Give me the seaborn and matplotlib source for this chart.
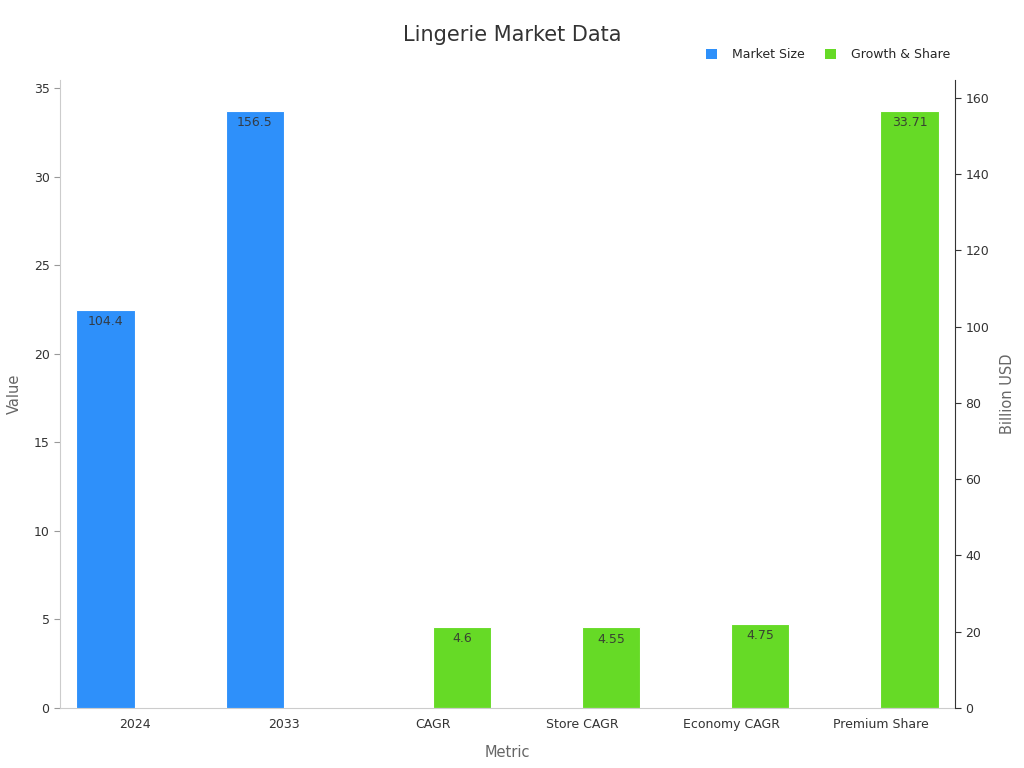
import pandas as pd
import matplotlib
matplotlib.use("Agg")
import matplotlib.pyplot as plt
from matplotlib.patches import Patch
import seaborn as sns

# data
metrics = ["2024", "2033", "CAGR", "Store CAGR", "Economy CAGR", "Premium Share"]
series_names = ["Market Size", "Growth & Share"]
market_size = [104.4, 156.5, None, None, None, None]      # Billion USD (right axis)
growth_share = [None, None, 4.6, 4.55, 4.75, 33.71]       # % (left axis)

colors = {"Market Size": "#2E90FA", "Growth & Share": "#66DA26"}

rows = []
for m, v in zip(metrics, market_size):
    if v is not None:
        rows.append({"Metric": m, "Value": v, "Series": "Market Size"})
for m, v in zip(metrics, growth_share):
    if v is not None:
        rows.append({"Metric": m, "Value": v, "Series": "Growth & Share"})
df = pd.DataFrame(rows)

sns.set_style("white")
plt.rcParams["font.family"] = ["DejaVu Sans"]

fig = plt.figure(figsize=(10.24, 7.68), dpi=100)
ax = fig.add_axes([0.0586, 0.0781, 0.8740, 0.8177])
ax2 = ax.twinx()

left_df = df[df["Series"] == "Growth & Share"]
right_df = df[df["Series"] == "Market Size"]

sns.barplot(data=left_df, x="Metric", y="Value", hue="Series", order=metrics,
            hue_order=series_names, palette=colors, width=0.78, gap=0, dodge=True,
            saturation=1, edgecolor="#ffffff", linewidth=0.8, legend=False, ax=ax)
sns.barplot(data=right_df, x="Metric", y="Value", hue="Series", order=metrics,
            hue_order=series_names, palette=colors, width=0.78, gap=0, dodge=True,
            saturation=1, edgecolor="#ffffff", linewidth=0.8, legend=False, ax=ax2)

for a in (ax, ax2):
    for c in a.containers:
        a.bar_label(c, fmt="{:g}", padding=-13, fontsize=9, color="#333333", alpha=0.9)

ax.set_ylim(0, max(v for v in growth_share if v is not None) * 1.052)
ax2.set_ylim(0, max(v for v in market_size if v is not None) * 1.052)
ax.set_yticks([0, 5, 10, 15, 20, 25, 30, 35])
ax2.set_yticks([0, 20, 40, 60, 80, 100, 120, 140, 160])
ax.set_xlim(-0.5, len(metrics) - 0.5)

ax.set_xlabel("Metric", fontsize=10.5, color="#666666", labelpad=10)
ax.set_ylabel("Value", fontsize=10.5, color="#666666", labelpad=8.5)
ax2.set_ylabel("Billion USD", fontsize=10.5, color="#666666", labelpad=8)

ax.spines["top"].set_visible(False)
ax2.spines["top"].set_visible(False)
ax.spines["right"].set_visible(False)
ax.spines["left"].set_color("#cccccc")
ax.spines["bottom"].set_color("#cccccc")
ax2.spines["left"].set_visible(False)
ax2.spines["bottom"].set_visible(False)
ax2.spines["right"].set_color("#333333")

ax.tick_params(axis="y", length=4, color="#999999", labelsize=9, labelcolor="#333333")
ax.tick_params(axis="x", length=4, color="#666666", labelsize=9, labelcolor="#333333", pad=3)
ax2.tick_params(axis="y", length=4, color="#333333", labelsize=9, labelcolor="#333333")

fig.suptitle("Lingerie Market Data", fontsize=15, color="#333333", y=0.968)

handles = [Patch(facecolor=colors[s], edgecolor="none", label=s) for s in series_names]
fig.legend(handles=handles, loc="center right", bbox_to_anchor=(0.939, 0.929), ncol=2,
           frameon=False, fontsize=9, handlelength=0.9, handleheight=0.9,
           columnspacing=1.6, handletextpad=1.2)

fig.savefig("out.png", dpi=100)
